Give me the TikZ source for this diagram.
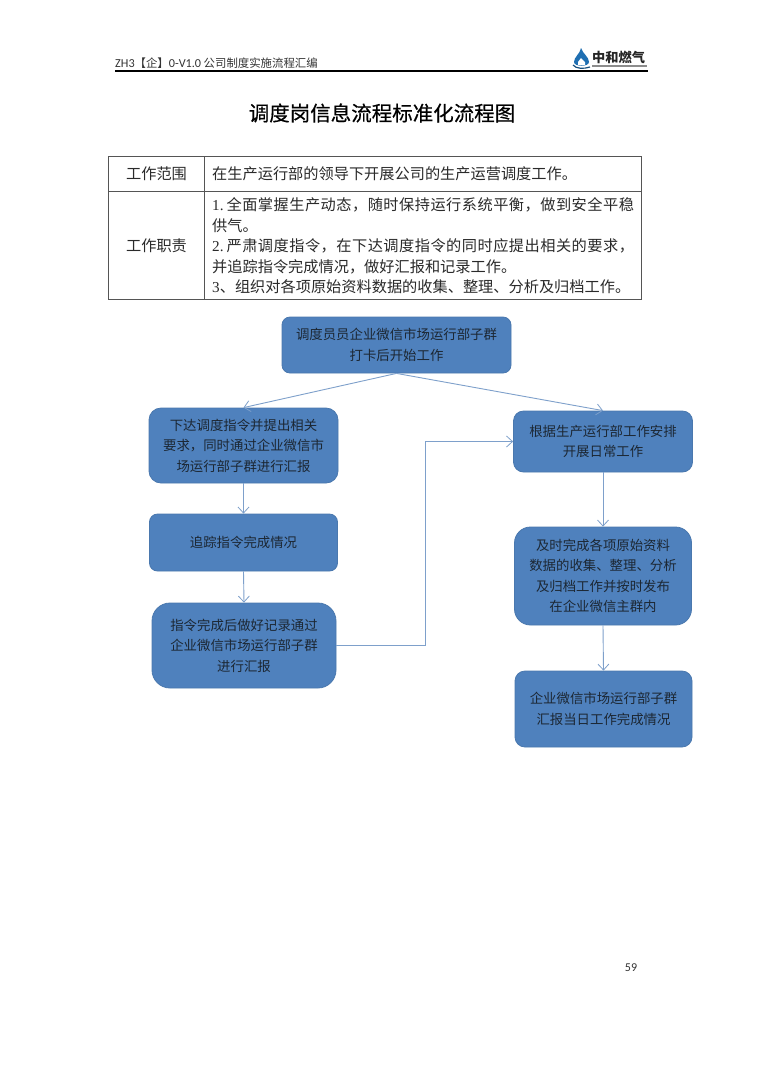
\documentclass[tikz,border=0pt]{standalone}
\usepackage{fontspec}
\usetikzlibrary{arrows.meta}
\setmainfont{Noto Sans CJK SC}
\newfontfamily\latinf{Carlito}
\newfontfamily\serifl{Liberation Serif}
\newfontfamily\cjkwide[LetterSpace=3.2]{Noto Sans CJK SC}
\newfontfamily\cjkheavy[FakeBold=0.5]{Noto Sans CJK SC}
\definecolor{boxfill}{HTML}{4F81BD}
\definecolor{boxedge}{HTML}{4A78AE}
\definecolor{linkc}{HTML}{7EA0CB}
\definecolor{boxtext}{HTML}{1C2733}
\definecolor{tabline}{HTML}{555555}
\definecolor{tabtext}{HTML}{2A2A2A}
\definecolor{logoblue}{HTML}{1F6FB2}
\tikzset{
  flowbox/.style={draw=boxedge,line width=0.8pt,fill=boxfill,text=boxtext,align=center,inner sep=0pt,
    font=\fontsize{13.4}{20.5}\selectfont},
  link/.style={draw=linkc,line width=0.9pt,-{Straight Barb[length=6pt,width=11pt,line width=0.8pt]}},
  tabtxt/.style={text=tabtext,inner sep=0pt,anchor=west,font=\fontsize{15.2}{18}\selectfont},
  tabcell/.style={draw=tabline,line width=1pt,inner sep=0pt,anchor=north west},
  headtxt/.style={inner sep=0pt,text=black!80}
}
\begin{document}
\begin{tikzpicture}[x=1pt,y=-1pt]
\useasboundingbox[fill=white] (0,0) rectangle (764,1080);
% header
\node[headtxt,anchor=base west,font=\fontsize{11.4}{14}\selectfont] (hd) at (115,67)
  {{\latinf\fontsize{12.2}{14}\selectfont ZH3}【企】{\latinf\fontsize{12.2}{14}\selectfont 0-V1.0} 公司制度实施流程汇编};
\coordinate (rulea) at (115,71);
\coordinate (ruleb) at (648,71);
\draw[line width=1.4pt,black] (rulea) -- (ruleb);
% logo
\fill[logoblue] (581,48) .. controls (583,54) and (589,57) .. (589,62) .. controls (589,67) and (574,67) .. (574,62) .. controls (574,57) and (580,54) .. (581,48) -- cycle;
\fill[white] (581,58) -- (585,62) -- (585,65) -- (578,65) -- (578,62) -- cycle;
\draw[logoblue!70!black,line width=1.2pt] (573,65) .. controls (576,69) and (584,69) .. (590,67);
\node[inner sep=0pt,anchor=west,font=\fontsize{13.2}{14}\selectfont\bfseries,text=black!85] (logo) at (592,57) {中和燃气};
\fill[black!45] (592,65.2) rectangle (647,66.6);
% title
\node[inner sep=0pt,font=\fontsize{20.5}{24}\selectfont\cjkheavy,text=black] (title) at (382,113) {调度岗信息流程标准化流程图};
% table
\node[tabcell,minimum width=96pt,minimum height=35pt] (c11) at (108,156) {};
\node[tabcell,minimum width=437pt,minimum height=35pt] (c12) at (204,156) {};
\node[tabcell,minimum width=96pt,minimum height=108pt] (c21) at (108,191) {};
\node[tabcell,minimum width=437pt,minimum height=108pt] (c22) at (204,191) {};
\node[tabtxt,anchor=center] at (c11.center) {工作范围};
\node[tabtxt,anchor=center] at (c21.center) {工作职责};
\node[tabtxt] (t0) at (212,174) {在生产运行部的领导下开展公司的生产运营调度工作。};
\node[tabtxt] (t1) at (212,205) {{\serifl 1.}\hspace{3pt}{\cjkwide 全面掌握生产动态，随时保持运行系统平衡，做到安全平稳}};
\node[tabtxt] (t2) at (212,226) {供气。};
\node[tabtxt] (t3) at (212,246) {{\serifl 2.}\hspace{3pt}{\cjkwide 严肃调度指令，在下达调度指令的同时应提出相关的要求，}};
\node[tabtxt] (t4) at (212,267) {并追踪指令完成情况，做好汇报和记录工作。};
\node[tabtxt] (t5) at (212,287) {{\serifl 3}、组织对各项原始资料数据的收集、整理、分析及归档工作。};
% flow boxes
\node[flowbox,rounded corners=8pt,minimum width=229pt,minimum height=56pt] (a) at (396.5,345)
  {调度员员企业微信市场运行部子群\\打卡后开始工作};
\node[flowbox,rounded corners=12pt,minimum width=189pt,minimum height=75pt] (b) at (243.5,445.5)
  {下达调度指令并提出相关\\要求，同时通过企业微信市\\场运行部子群进行汇报};
\node[flowbox,rounded corners=8pt,minimum width=188pt,minimum height=57pt] (c) at (243.5,542.5)
  {追踪指令完成情况};
\node[flowbox,rounded corners=18pt,minimum width=184pt,minimum height=85pt] (d) at (244,645.5)
  {指令完成后做好记录通过\\企业微信市场运行部子群\\进行汇报};
\node[flowbox,rounded corners=10pt,minimum width=179pt,minimum height=61pt] (e) at (603,441.5)
  {根据生产运行部工作安排\\开展日常工作};
\node[flowbox,rounded corners=16pt,minimum width=177pt,minimum height=98pt] (f) at (603,576)
  {及时完成各项原始资料\\数据的收集、整理、分析\\及归档工作并按时发布\\在企业微信主群内};
\node[flowbox,rounded corners=10pt,minimum width=177pt,minimum height=76pt] (g) at (603.5,709)
  {企业微信市场运行部子群\\汇报当日工作完成情况};
% connectors
\draw[link] (a.south) -- (b.north);
\draw[link] (a.south) -- (e.north);
\draw[link] (b.south) -- (c.north);
\draw[link] (c.south) -- (d.north);
\coordinate (bendx) at (425,0);
\draw[link] (d.east) -- (d.east -| bendx) -- (e.west -| bendx) -- (e.west);
\draw[link] (e.south) -- (f.north);
\draw[link] (f.south) -- (g.north);
% page number
\node[inner sep=0pt,font=\fontsize{12}{14}\selectfont\latinf,text=black!80] (pg) at (631,967.5) {59};
\end{tikzpicture}
\end{document}
